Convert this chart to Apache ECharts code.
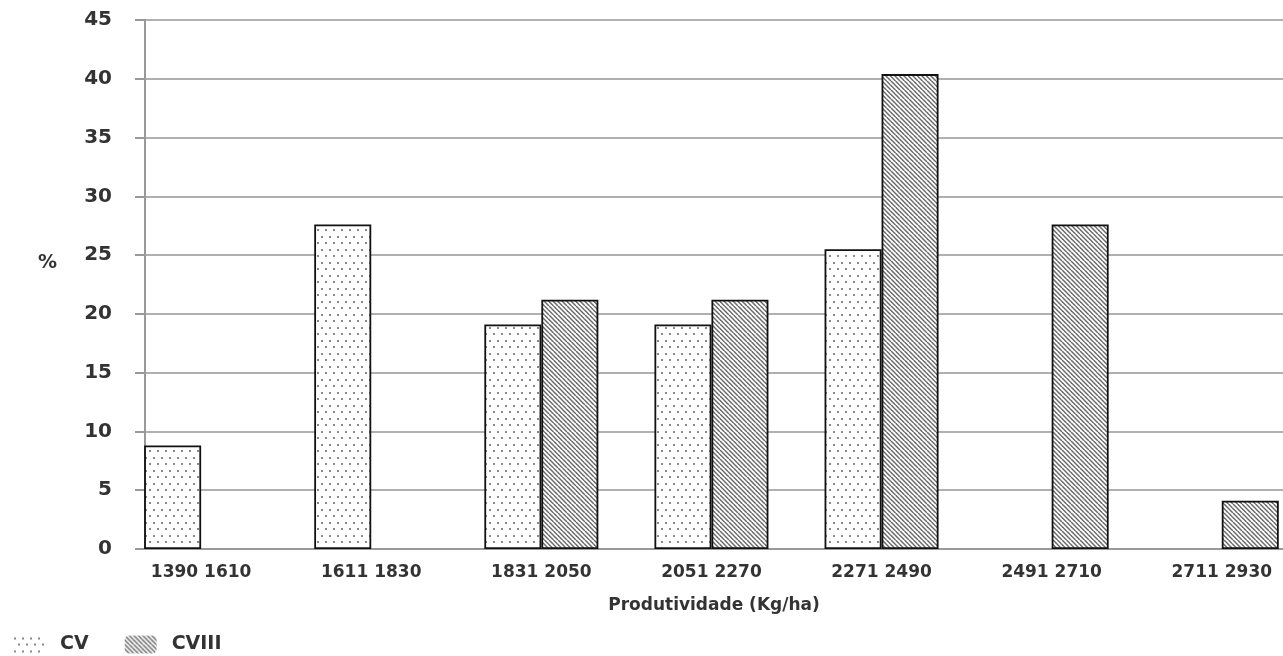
<!DOCTYPE html>
<html><head><meta charset="utf-8">
<script src="https://cdn.jsdelivr.net/npm/echarts@6/dist/echarts.min.js"></script>
<style>html,body{margin:0;padding:0;background:#fff}#c{width:1283px;height:656px}</style>
</head><body><div id="c"></div>
<script>
const categories = ['1390 1610','1611 1830','1831 2050','2051 2270','2271 2490','2491 2710','2711 2930'];
const cvValues = [8.8, 27.6, 19.1, 19.1, 25.5, 0, 0];
const cviiiValues = [0, 0, 21.2, 21.2, 40.4, 27.6, 4.1];
const yTicks = [0,5,10,15,20,25,30,35,40,45];

function dotPattern(){
  const c = document.createElement('canvas'); c.width = 8; c.height = 13;
  const g = c.getContext('2d');
  g.fillStyle = '#fff'; g.fillRect(0,0,8,13);
  g.fillStyle = '#888';
  g.fillRect(1,2,2,2); g.fillRect(5,8,2,2);
  return c;
}
function hatchPattern(){
  const c = document.createElement('canvas'); c.width = 9; c.height = 9;
  const g = c.getContext('2d');
  g.fillStyle = '#fff'; g.fillRect(0,0,9,9);
  g.strokeStyle = '#6a6a6a'; g.lineWidth = 1.5;
  for (let k = -13.5; k <= 13.5; k += 4.5){ g.beginPath(); g.moveTo(k,0); g.lineTo(k+9,9); g.stroke(); }
  return c;
}
const font = 'DejaVu Sans';
const chart = echarts.init(document.getElementById('c'));
const toData = arr => arr.map((v,i) => [i, v === 0 ? '-' : v]);
chart.setOption({
  animation:false,
  grid:{left:145, right:0, top:20, bottom:107},
  legend:{
    left:8, top:630, itemWidth:32, itemHeight:18, itemGap:36,
    textStyle:{fontFamily:font, fontWeight:'bold', fontSize:19, color:'#333', padding:[0,0,0,10]},
    itemStyle:{borderWidth:0}
  },
  xAxis:{
    type:'value', min:-0.33, max:6.36,
    axisLine:{show:true, onZero:false, lineStyle:{color:'#999', width:2}},
    axisTick:{show:false},
    splitLine:{show:false},
    axisLabel:{customValues:categories.map((_,i)=>i), formatter:v=>categories[v] || '', margin:15,
      fontFamily:font, fontWeight:'bold', fontSize:17, color:'#333'},
    name:'Produtividade (Kg/ha)', nameLocation:'middle', nameGap:48,
    nameTextStyle:{fontFamily:font, fontWeight:'bold', fontSize:17, color:'#333'}
  },
  yAxis:{
    type:'value', min:0, max:45, interval:5,
    axisLine:{show:true, onZero:false, lineStyle:{color:'#999', width:2}},
    axisTick:{show:true, length:10, lineStyle:{color:'#999', width:2}},
    splitLine:{lineStyle:{color:'#b0b0b0', width:2}},
    axisLabel:{margin:33, fontFamily:font, fontWeight:'bold', fontSize:20, color:'#333'},
    name:'%', nameLocation:'middle', nameGap:88, nameRotate:0,
    nameTextStyle:{fontFamily:font, fontWeight:'bold', fontSize:19, color:'#333', verticalAlign:'bottom', padding:[0,0,12,0]}
  },
  series:[
    {name:'CV', type:'bar', data:toData(cvValues), barWidth:57, barGap:'0%',
     itemStyle:{color:{image:dotPattern(), repeat:'repeat'}, borderColor:'#111', borderWidth:1.8}},
    {name:'CVIII', type:'bar', data:toData(cviiiValues), barWidth:57, barGap:'0%',
     itemStyle:{color:{image:hatchPattern(), repeat:'repeat'}, borderColor:'#111', borderWidth:1.8}}
  ]
});
</script></body></html>
